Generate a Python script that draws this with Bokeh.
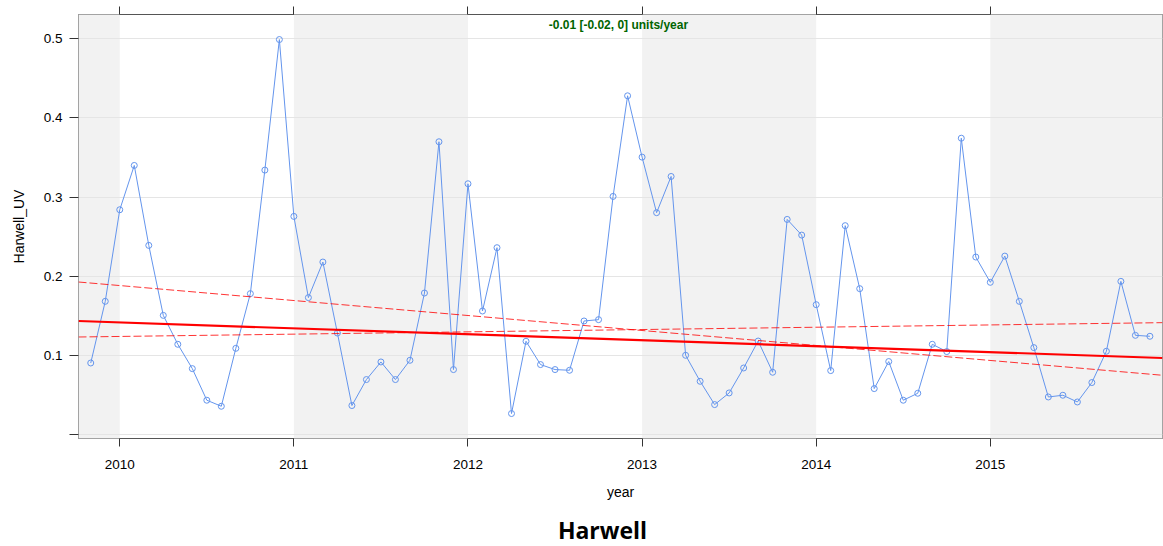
import pandas as pd
from bokeh.plotting import figure
from bokeh.models import Range1d, LinearAxis, FixedTicker, Label, ColumnDataSource, Div
from bokeh.layouts import column
from bokeh.embed import file_html
from bokeh.resources import INLINE

# ---- data ----
months = pd.date_range("2009-11-01", "2015-12-01", freq="MS")
uv = [0.0908, 0.1686,
      0.2842, 0.3401, 0.2392, 0.1509, 0.1144, 0.0837, 0.0438, 0.0362, 0.1093, 0.1783, 0.3342, 0.4990,
      0.2758, 0.1733, 0.2182, 0.1286, 0.0371, 0.0699, 0.0921, 0.0699, 0.0942, 0.1791, 0.3700, 0.0825,
      0.3170, 0.1564, 0.2363, 0.0270, 0.1182, 0.0888, 0.0825, 0.0816, 0.1438, 0.1455, 0.3010, 0.4280,
      0.3506, 0.2805, 0.3262, 0.1005, 0.0677, 0.0383, 0.0530, 0.0845, 0.1185, 0.0791, 0.2720, 0.2522,
      0.1644, 0.0812, 0.2641, 0.1846, 0.0585, 0.0926, 0.0438, 0.0526, 0.1144, 0.1052, 0.3745, 0.2245,
      0.1926, 0.2257, 0.1686, 0.1102, 0.0479, 0.0501, 0.0416, 0.0661, 0.1056, 0.1938, 0.1257, 0.1245]
year_dec = [d.year + (d.month - 1) / 12 for d in months]

trend_x = [2009.763, 2015.989]
trend_mid = [0.1438, 0.0971]
trend_upper = [0.1930, 0.0753]
trend_lower = [0.1236, 0.1417]

shade_left = [2009, 2011, 2013, 2015]
shade_right = [2010, 2012, 2014, 2016]

year_ticks = [2010, 2011, 2012, 2013, 2014, 2015]
y_label_ticks = [0.1, 0.2, 0.3, 0.4, 0.5]
y_extra_ticks = [0.0]
trend_text = "-0.01 [-0.02, 0] units/year"
site = "Harwell"

FONT = "Liberation Sans"

p = figure(width=1163, height=504, output_backend="svg", toolbar_location=None,
           x_range=Range1d(2009.763, 2015.989), y_range=Range1d(-0.0045, 0.5306),
           title=None)
p.min_border_left = 78
p.min_border_right = 1
p.min_border_top = 14
p.min_border_bottom = 66
p.background_fill_color = "white"
p.border_fill_color = "white"
p.outline_line_color = "#555555"
p.outline_line_width = 1

# shading bands
p.quad(left=shade_left, right=shade_right, bottom=-1, top=1,
       fill_color="#f2f2f2", line_color=None, level="image")

# grids
p.xgrid.visible = False
p.ygrid.ticker = FixedTicker(ticks=y_extra_ticks + y_label_ticks)
p.ygrid.grid_line_color = "#e5e5e5"
p.ygrid.grid_line_width = 1

# axes
xa = p.xaxis[0]
xa.ticker = FixedTicker(ticks=year_ticks)
xa.axis_line_color = None
xa.major_tick_out = 8
xa.major_tick_in = 0
xa.major_tick_line_color = "#333333"
xa.minor_tick_line_color = None
xa.major_label_standoff = 13
xa.major_label_text_font = FONT
xa.major_label_text_font_size = "13.5px"
xa.major_label_text_color = "black"
xa.axis_label = "year"
xa.axis_label_text_font = FONT
xa.axis_label_text_font_size = "14px"
xa.axis_label_text_font_style = "normal"
xa.axis_label_text_color = "black"
xa.axis_label_standoff = 12

ya = p.yaxis[0]
ya.ticker = FixedTicker(ticks=y_label_ticks, minor_ticks=y_extra_ticks)
ya.axis_line_color = None
ya.major_tick_out = 9
ya.major_tick_in = 0
ya.major_tick_line_color = "#333333"
ya.minor_tick_out = 9
ya.minor_tick_in = 0
ya.minor_tick_line_color = "#333333"
ya.major_label_standoff = 7
ya.major_label_text_font = FONT
ya.major_label_text_font_size = "13.5px"
ya.major_label_text_color = "black"
ya.axis_label = "Harwell_UV"
ya.axis_label_text_font = FONT
ya.axis_label_text_font_size = "14px"
ya.axis_label_text_font_style = "normal"
ya.axis_label_text_color = "black"
ya.axis_label_standoff = 14

top = LinearAxis(ticker=FixedTicker(ticks=[], minor_ticks=year_ticks), axis_line_color=None,
                 major_tick_out=8, major_tick_in=0, major_tick_line_color="#333333",
                 minor_tick_out=8, minor_tick_in=0, minor_tick_line_color="#333333",
                 major_label_standoff=0)
p.add_layout(top, "above")

# data
src = ColumnDataSource(data=dict(x=year_dec, y=uv))
p.line("x", "y", source=src, line_color="#6495ED", line_width=1)
p.scatter("x", "y", source=src, marker="circle", size=6, fill_color=None,
          line_color="#6495ED", line_width=1)

# trend lines
p.line(trend_x, trend_mid, line_color="red", line_width=2.2)
p.line(trend_x, trend_upper, line_color="red", line_width=1, line_dash="8 3", line_alpha=0.8)
p.line(trend_x, trend_lower, line_color="red", line_width=1, line_dash="8 3", line_alpha=0.8)

p.add_layout(Label(x=2012.864, y=0.5178, text=trend_text, text_align="center",
                   text_baseline="middle", text_font=FONT, text_font_size="12px",
                   text_font_style="bold", text_color="#006400"))

# site title below the plot
title_div = Div(
    text='<span style="position:relative; left:21px; top:18px;">%s</span>' % site,
    width=1163, height=42,
    styles={"font-family": "'Open Sans', sans-serif", "font-size": "23px",
            "font-weight": "bold", "color": "black", "text-align": "center",
            "line-height": "16px", "margin": "0", "padding": "0"})

layout = column(p, title_div, spacing=0)
open("out.html", "w").write(file_html(layout, INLINE))
